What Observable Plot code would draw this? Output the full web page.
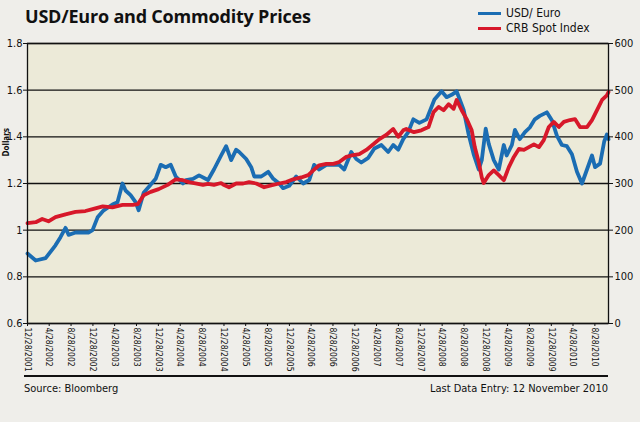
<!DOCTYPE html>
<html><head><meta charset="utf-8">
<script src="https://cdn.jsdelivr.net/npm/d3@7"></script>
<script src="https://cdn.jsdelivr.net/npm/@observablehq/plot@0.6"></script>
<style>
body{margin:0;background:#efeeea;width:640px;height:422px;overflow:hidden;position:relative;font-family:"Liberation Sans Narrow","DejaVu Sans Condensed",sans-serif;color:#111}
#title{position:absolute;left:25px;top:4px;font:700 18px "Open Sans",sans-serif;letter-spacing:-0.2px;color:#111}
.leg{position:absolute;left:478px;font-size:12px;line-height:14px;white-space:nowrap}
.leg i{display:inline-block;width:23px;height:3px;vertical-align:middle;margin-right:5px}
#chart{position:absolute;left:0;top:35px}
#footline{position:absolute;left:24px;top:375px;width:584px;border-top:2px solid #111}
#source{position:absolute;left:24px;top:382px;font-size:11px}
#last{position:absolute;right:32px;top:382px;font-size:11px}
</style></head>
<body>
<div id="title">USD/Euro and Commodity Prices</div>
<div class="leg" style="top:6px"><i style="background:#1b6db3"></i>USD/ Euro</div>
<div class="leg" style="top:21px"><i style="background:#d7182a"></i>CRB Spot Index</div>
<div id="chart"></div>
<div id="footline"></div>
<div id="source">Source: Bloomberg</div>
<div id="last">Last Data Entry: 12 November 2010</div>
<script>
const tickLabels = ["12/28/2001","4/28/2002","8/28/2002","12/28/2002","4/28/2003","8/28/2003","12/28/2003","4/28/2004","8/28/2004","12/28/2004","4/28/2005","8/28/2005","12/28/2005","4/28/2006","8/28/2006","12/28/2006","4/28/2007","8/28/2007","12/28/2007","4/28/2008","8/28/2008","12/28/2008","4/28/2009","8/28/2009","12/28/2009","4/28/2010","8/28/2010"];
const leftTicks = [0.6,0.8,1.0,1.2,1.4,1.6,1.8];

const usdDates = ["2001-12-28","2002-02-12","2002-04-08","2002-06-02","2002-06-30","2002-07-28","2002-08-14","2002-09-22","2002-12-03","2002-12-26","2003-01-23","2003-02-26","2003-04-16","2003-05-14","2003-06-11","2003-06-28","2003-07-26","2003-08-23","2003-09-09","2003-10-07","2003-11-04","2003-12-13","2004-01-10","2004-02-07","2004-03-06","2004-04-03","2004-05-13","2004-05-30","2004-07-08","2004-08-11","2004-09-30","2004-11-02","2004-12-12","2005-01-09","2005-02-06","2005-03-06","2005-03-23","2005-05-01","2005-05-29","2005-06-15","2005-07-24","2005-09-01","2005-09-29","2005-11-01","2005-11-23","2005-12-27","2006-02-04","2006-03-15","2006-04-18","2006-05-15","2006-06-12","2006-07-22","2006-08-30","2006-10-02","2006-10-30","2006-12-08","2007-01-05","2007-02-02","2007-03-13","2007-04-16","2007-05-25","2007-07-02","2007-07-30","2007-08-27","2007-09-24","2007-10-22","2007-11-19","2007-12-23","2008-02-01","2008-03-16","2008-04-25","2008-05-23","2008-06-20","2008-07-18","2008-08-04","2008-08-26","2008-09-23","2008-10-21","2008-11-18","2008-12-05","2008-12-27","2009-01-13","2009-02-10","2009-03-10","2009-04-07","2009-04-23","2009-05-22","2009-06-08","2009-07-05","2009-08-03","2009-08-30","2009-09-27","2009-10-25","2009-12-03","2010-01-01","2010-01-28","2010-02-25","2010-03-25","2010-04-22","2010-05-20","2010-06-17","2010-07-15","2010-08-12","2010-08-29","2010-09-26","2010-10-19","2010-11-03","2010-11-12"];
const usdValues = [0.90,0.87,0.88,0.935,0.97,1.01,0.98,0.99,0.99,1.00,1.055,1.085,1.11,1.12,1.20,1.17,1.15,1.12,1.085,1.16,1.185,1.22,1.28,1.27,1.28,1.23,1.20,1.215,1.22,1.235,1.215,1.26,1.32,1.36,1.30,1.345,1.335,1.305,1.27,1.23,1.23,1.25,1.22,1.20,1.18,1.19,1.23,1.20,1.215,1.28,1.26,1.28,1.28,1.28,1.26,1.335,1.305,1.29,1.31,1.35,1.365,1.335,1.365,1.345,1.39,1.42,1.475,1.46,1.475,1.56,1.595,1.57,1.58,1.595,1.56,1.515,1.41,1.325,1.26,1.30,1.435,1.37,1.30,1.26,1.365,1.32,1.365,1.43,1.39,1.42,1.44,1.475,1.49,1.505,1.47,1.405,1.365,1.36,1.325,1.25,1.20,1.26,1.32,1.27,1.285,1.38,1.41,1.39];

const crbDates = ["2001-12-28","2002-02-12","2002-03-20","2002-04-24","2002-06-02","2002-07-28","2002-09-22","2002-11-16","2002-12-26","2003-02-21","2003-04-16","2003-06-11","2003-08-07","2003-09-05","2003-10-07","2003-11-15","2003-12-30","2004-02-18","2004-04-03","2004-05-13","2004-06-16","2004-08-05","2004-09-02","2004-09-30","2004-11-02","2004-12-12","2004-12-23","2005-01-25","2005-03-06","2005-04-14","2005-05-17","2005-06-26","2005-08-09","2005-09-17","2005-11-01","2005-12-10","2006-01-18","2006-03-04","2006-04-12","2006-05-10","2006-06-12","2006-07-22","2006-08-30","2006-10-02","2006-11-10","2006-12-19","2007-01-22","2007-03-02","2007-04-10","2007-05-14","2007-06-21","2007-07-30","2007-08-27","2007-09-24","2007-10-11","2007-11-23","2008-01-03","2008-02-12","2008-03-11","2008-04-08","2008-05-06","2008-06-03","2008-07-01","2008-07-18","2008-08-15","2008-09-12","2008-10-10","2008-10-27","2008-11-18","2008-12-05","2008-12-16","2009-01-13","2009-02-10","2009-03-10","2009-04-07","2009-05-05","2009-06-02","2009-06-30","2009-07-28","2009-08-25","2009-09-22","2009-10-20","2009-11-16","2009-12-14","2010-01-11","2010-02-08","2010-03-08","2010-04-11","2010-05-09","2010-06-06","2010-07-15","2010-08-12","2010-09-09","2010-10-07","2010-11-03","2010-11-12"];
const crbValues = [215,217,224,219,228,234,239,241,245,251,249,254,254,256,275,282,288,297,309,307,303,299,297,299,297,301,298,292,300,300,303,300,292,296,300,303,309,313,318,328,339,342,342,346,357,361,363,372,384,395,404,417,400,414,417,410,414,421,453,464,457,470,460,479,457,438,414,378,346,313,301,318,328,318,307,335,357,374,372,378,384,378,393,421,432,421,432,436,438,421,421,436,457,479,489,496];

const parseTick = d3.utcParse("%m/%d/%Y");
const tickDates = tickLabels.map(parseTick);
const tickMap = new Map(tickDates.map((d, i) => [+d, tickLabels[i]]));
const usd = usdDates.map((d, i) => ({date: new Date(d), value: usdValues[i]}));
const crb = crbDates.map((d, i) => ({date: new Date(d), value: crbValues[i]}));
const font = '"Liberation Sans Narrow","DejaVu Sans Condensed",sans-serif';

const chart = Plot.plot({
  width: 640, height: 340,
  marginTop: 8, marginBottom: 52, marginLeft: 27, marginRight: 32,
  style: {background: "transparent", fontFamily: font, fontSize: "11px", color: "#111", overflow: "visible"},
  x: {type: "utc", domain: [new Date("2001-12-28"), new Date("2010-11-12")]},
  y: {domain: [0.6, 1.8]},
  marks: [
    Plot.frame({fill: "#ecead8", stroke: null}),
    Plot.gridY(leftTicks, {stroke: "#111", strokeOpacity: 1, strokeWidth: 1.3}),
    Plot.lineY(usd, {x: "date", y: "value", stroke: "#1b6db3", strokeWidth: 3.8}),
    Plot.lineY(crb, {x: "date", y: d => 0.6 + d.value / 500, stroke: "#d7182a", strokeWidth: 3.8}),
    Plot.frame({stroke: "#111", strokeWidth: 1.3}),
    Plot.axisY(leftTicks, {anchor: "left", tickSize: 4, tickPadding: 1, label: null, fontSize: 11, tickFormat: d => String(+d.toFixed(1))}),
    Plot.axisY(leftTicks, {anchor: "right", tickSize: 4, tickPadding: 2, label: null, fontSize: 11, tickFormat: d => String(Math.round((d - 0.6) * 500))}),
    Plot.axisX(tickDates, {tickRotate: 90, tickSize: 3, tickPadding: 1, label: null, fontSize: 8.5, tickFormat: d => tickMap.get(+d)}),
    Plot.text(["Dollars"], {frameAnchor: "left", dx: -21, dy: -27, rotate: -90, fontWeight: "bold", fontSize: 8})
  ]
});
document.getElementById("chart").append(chart);
</script>
</body></html>
